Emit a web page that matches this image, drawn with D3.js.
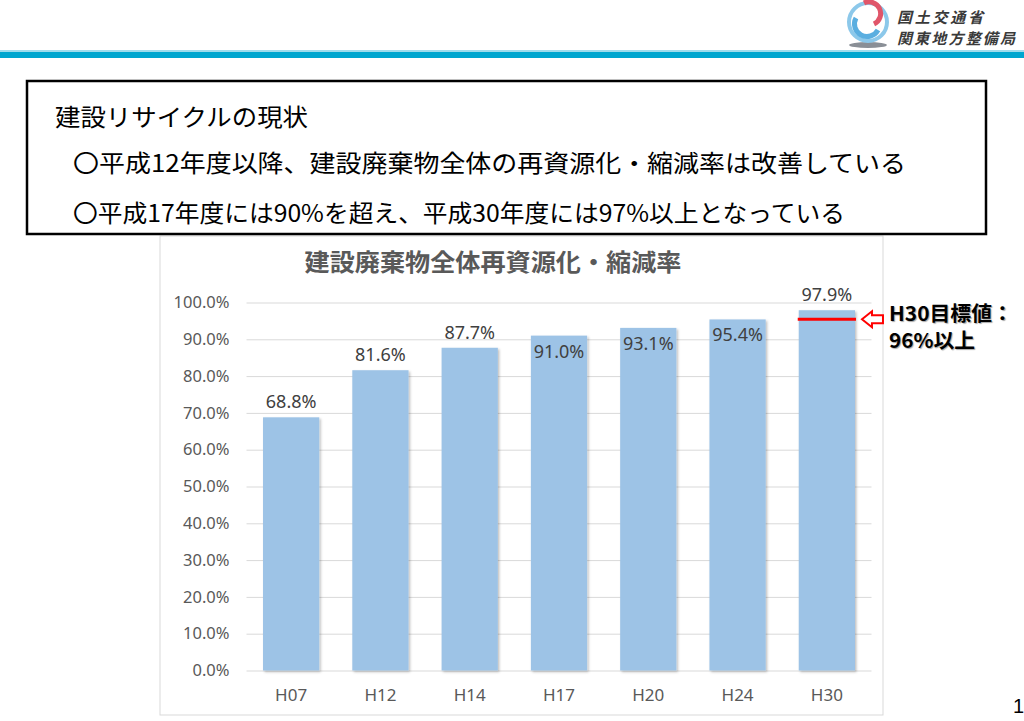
<!DOCTYPE html>
<html>
<head>
<meta charset="utf-8">
<script src="https://cdn.jsdelivr.net/npm/d3@7"></script>
<style>
  body { margin: 0; background: #fff; }
  svg { display: block; }
</style>
</head>
<body>
<svg id="chart" width="1024" height="721"></svg>
<script>
// data
var years = ["H07", "H12", "H14", "H17", "H20", "H24", "H30"];
var rates = [68.8, 81.6, 87.7, 91.0, 93.1, 95.4, 97.9];
var labelInside = [false, false, false, true, true, true, false];
var targetRate = 96;
var targetText = ["H30目標値：", "96%以上"];
var chartTitle = "建設廃棄物全体再資源化・縮減率";
var boxLines = [
  "建設リサイクルの現状",
  "〇平成12年度以降、建設廃棄物全体の再資源化・縮減率は改善している",
  "〇平成17年度には90%を超え、平成30年度には97%以上となっている"
];
var orgLines = ["国土交通省", "関東地方整備局"];

var svg = d3.select("#chart");
var jp = "'Noto Sans CJK JP', 'Noto Sans', sans-serif";

// header bar + logo
svg.append("rect").attr("x", 0).attr("y", 52).attr("width", 1024).attr("height", 6).attr("fill", "#00a6cf");
svg.append("rect").attr("x", 0).attr("y", 50).attr("width", 1024).attr("height", 2).attr("fill", "#9fdcec");

var logo = svg.append("g").attr("transform", "translate(868,22)");
logo.append("ellipse").attr("cx", 0).attr("cy", 23).attr("rx", 19).attr("ry", 3).attr("fill", "#8a8f96");
logo.append("circle").attr("r", 19).attr("fill", "none").attr("stroke", "#8cc8ea").attr("stroke-width", 4);
logo.append("path").attr("d", "M-12,-4 A12,12 0 0,0 10,8").attr("fill", "none").attr("stroke", "#5aaee0").attr("stroke-width", 5);
logo.append("path").attr("d", "M-4,-19 A10,10 0 0,1 6,2").attr("fill", "none").attr("stroke", "#e0566a").attr("stroke-width", 5);

svg.selectAll("text.org")
  .data(orgLines)
  .enter()
  .append("text")
  .attr("class", "org")
  .attr("x", 897)
  .attr("y", function(d, i) { return 23 + i * 21; })
  .attr("font-family", jp)
  .attr("font-size", 15)
  .attr("font-weight", "bold")
  .attr("font-style", "italic")
  .attr("fill", "#3a3a3a")
  .attr("textLength", function(d, i) { return i == 0 ? 86 : 118; })
  .text(function(d) { return d; });

// chart frame
svg.append("rect")
  .attr("x", 160).attr("y", 236).attr("width", 723).attr("height", 479)
  .attr("fill", "#fff").attr("stroke", "#d9d9d9");

var defs = svg.append("defs");
var shadow = defs.append("filter").attr("id", "shadow").attr("x", "-10%").attr("y", "-10%").attr("width", "130%").attr("height", "130%");
shadow.append("feDropShadow").attr("dx", 1.5).attr("dy", 1.5).attr("stdDeviation", 1).attr("flood-color", "#000").attr("flood-opacity", 0.25);

var x = d3.scaleBand().domain(years).range([246.5, 871.5]).paddingInner(0.37).paddingOuter(0.185);
var y = d3.scaleLinear().domain([0, 100]).range([670.5, 302.5]);

// gridlines + y labels
var yAxis = svg.append("g")
  .attr("transform", "translate(246.5,0)")
  .call(d3.axisLeft(y).ticks(10).tickSize(-625).tickPadding(17)
    .tickFormat(function(d) { return d.toFixed(1) + "%"; }));
yAxis.select(".domain").remove();
yAxis.selectAll(".tick line").attr("stroke", "#d9d9d9").attr("stroke-width", 1);
yAxis.selectAll(".tick text")
  .attr("font-family", "'Noto Sans', sans-serif")
  .attr("font-size", 16.5)
  .attr("fill", "#595959");

// bars
svg.selectAll("rect.bar")
  .data(rates)
  .enter()
  .append("rect")
  .attr("class", "bar")
  .attr("x", function(d, i) { return x(years[i]); })
  .attr("y", function(d) { return y(d); })
  .attr("width", x.bandwidth())
  .attr("height", function(d) { return y(0) - y(d); })
  .attr("fill", "#9dc3e6")
  .attr("filter", "url(#shadow)");

// value labels
svg.selectAll("text.val")
  .data(rates)
  .enter()
  .append("text")
  .attr("class", "val")
  .attr("x", function(d, i) { return x(years[i]) + x.bandwidth() / 2; })
  .attr("y", function(d, i) { return labelInside[i] ? y(d) + 22 : y(d) - 9; })
  .attr("text-anchor", "middle")
  .attr("font-family", "'Noto Sans', sans-serif")
  .attr("font-size", 18)
  .attr("fill", "#404040")
  .text(function(d) { return d.toFixed(1) + "%"; });

// x labels
svg.selectAll("text.cat")
  .data(years)
  .enter()
  .append("text")
  .attr("class", "cat")
  .attr("x", function(d) { return x(d) + x.bandwidth() / 2; })
  .attr("y", 701)
  .attr("text-anchor", "middle")
  .attr("font-family", "'Liberation Sans Narrow', 'Noto Sans', sans-serif")
  .attr("font-size", 17)
  .attr("fill", "#595959")
  .text(function(d) { return d; });

// title
svg.append("text")
  .attr("x", 493).attr("y", 271)
  .attr("text-anchor", "middle")
  .attr("font-family", jp)
  .attr("font-size", 24)
  .attr("font-weight", "bold")
  .attr("fill", "#595959")
  .attr("textLength", 377)
  .attr("lengthAdjust", "spacingAndGlyphs")
  .text(chartTitle);

// target line on H30 bar
var lastYear = years[years.length - 1];
svg.append("line")
  .attr("x1", x(lastYear) - 1).attr("x2", x(lastYear) + x.bandwidth() + 1)
  .attr("y1", y(targetRate) + 2).attr("y2", y(targetRate) + 2)
  .attr("stroke", "#ff0000").attr("stroke-width", 3);

var ay = y(targetRate) + 2;
var ax = x(lastYear) + x.bandwidth() + 7;
svg.append("path")
  .attr("d", "M" + ax + "," + ay + " l10,-8 l0,4 l11,0 l0,8 l-11,0 l0,4 z")
  .attr("fill", "#fff").attr("stroke", "#ff0000").attr("stroke-width", 2);

var targetLen = [124, 86];
svg.selectAll("text.target")
  .data(targetText)
  .enter()
  .append("text")
  .attr("class", "target")
  .attr("x", 889)
  .attr("y", function(d, i) { return 321 + i * 27; })
  .attr("font-family", jp)
  .attr("font-size", 20)
  .attr("font-weight", "bold")
  .attr("fill", "#000")
  .attr("textLength", function(d, i) { return targetLen[i]; })
  .attr("lengthAdjust", "spacingAndGlyphs")
  .style("text-shadow", "1px 1px 1px rgba(0,0,0,0.35)")
  .text(function(d) { return d; });

// text box on top
svg.append("rect")
  .attr("x", 27).attr("y", 81).attr("width", 959).attr("height", 153)
  .attr("fill", "#fff").attr("stroke", "#000").attr("stroke-width", 2.5);

var boxX = [55, 73, 73];
var boxY = [126, 172, 222];
var boxLen = [253, 833, 772];
svg.selectAll("text.box")
  .data(boxLines)
  .enter()
  .append("text")
  .attr("class", "box")
  .attr("x", function(d, i) { return boxX[i]; })
  .attr("y", function(d, i) { return boxY[i]; })
  .attr("font-family", jp)
  .attr("font-size", 24)
  .attr("fill", "#000")
  .attr("textLength", function(d, i) { return boxLen[i]; })
  .attr("lengthAdjust", "spacingAndGlyphs")
  .text(function(d) { return d; });

// page number
svg.append("text")
  .attr("x", 1013).attr("y", 713)
  .attr("font-family", "'Liberation Sans', sans-serif")
  .attr("font-size", 20)
  .attr("fill", "#000")
  .text("1");
</script>
</body>
</html>
